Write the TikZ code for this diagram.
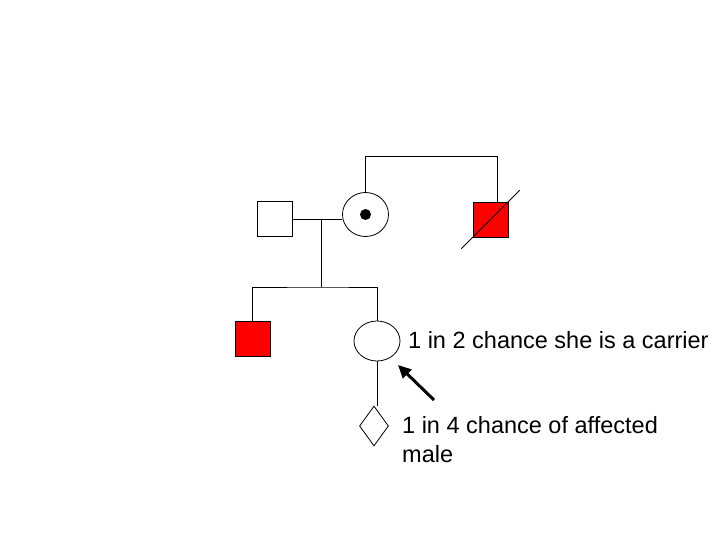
\documentclass[tikz,border=0pt]{standalone}
\usepackage{fontspec}
\setmainfont{Liberation Sans}
\usepackage{tikz}
\usetikzlibrary{shapes.geometric, arrows.meta}

\begin{document}
\begin{tikzpicture}[
  x=1pt, y=-1pt,
  person/.style={draw=black, line width=0.8pt, inner sep=0pt},
  male/.style={person, rectangle, minimum size=35pt},
  affected/.style={male, fill=red},
  female/.style={person, ellipse, minimum width=46pt, minimum height=44pt},
  unborn/.style={person, diamond, minimum width=29pt, minimum height=40pt},
  link/.style={draw=black, line width=0.8pt},
  pointer/.style={-{Triangle[length=13pt, width=12pt]}, line width=3pt},
  note/.style={anchor=base west, inner sep=0pt, align=left,
               font=\fontsize{23.5}{29}\selectfont}
]
\useasboundingbox (0,0) rectangle (720,540);

\node[male]     (father)   at (275,219)   {};
\node[female]   (mother)   at (365.5,214.5) {};
\node[affected] (uncle)    at (490.5,219.5) {};
\node[affected] (brother)  at (252.5,338.5) {};
\node[female, minimum height=40pt] (daughter) at (377,341) {};
\node[unborn]   (fetus)    at (374,426)   {};
\fill (mother.center) circle (5.5pt);

\coordinate (mate) at (321,219);
\coordinate (sibs) at (321,287);

\draw[link] (father.east) -- (father.east -| mother.west);
\draw[link] (mother.north) -- ++(0,-36) -| ([xshift=6.5pt]uncle.north);
\draw[link, shorten <=-16pt, shorten >=-16pt] (uncle.south west) -- (uncle.north east);
\draw[link] (mate) -- (sibs);
\draw[link] (brother.north) |- (sibs) -| (daughter.north);
\draw[link] (daughter.south) -- (daughter.south |- fetus.north);

\node[note] (carrier) at (408,348) {1 in 2 chance she is a carrier};
% base of a two-line note is the baseline of its last line
\node[note] (risk) at (402,462) {1 in 4 chance of affected\\male};

\coordinate (tail) at (434,400);
\coordinate (tip)  at (398,365);
\draw[pointer] (tail) -- (tip);
\end{tikzpicture}
\end{document}
